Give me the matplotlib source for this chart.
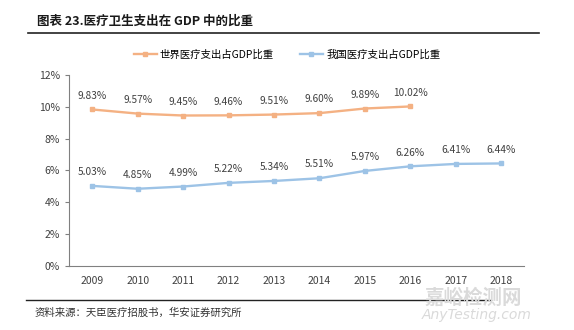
import numpy as np
import matplotlib.pyplot as plt
from matplotlib.lines import Line2D

plt.rcParams['font.family'] = ['Noto Sans CJK SC', 'DejaVu Sans']

years = ['2009', '2010', '2011', '2012', '2013', '2014', '2015', '2016', '2017', '2018']
world = [9.83, 9.57, 9.45, 9.46, 9.51, 9.60, 9.89, 10.02]
china = [5.03, 4.85, 4.99, 5.22, 5.34, 5.51, 5.97, 6.26, 6.41, 6.44]

c_world = '#F4B183'
c_china = '#9DC3E6'

fig = plt.figure(figsize=(5.74, 3.30), dpi=100)
ax = fig.add_axes([0.121, 0.194, 0.792, 0.579])

x = np.arange(len(years))
ax.plot(x[:len(world)], world, color=c_world, lw=1.7, marker='s', ms=3.5)
ax.plot(x, china, color=c_china, lw=1.7, marker='s', ms=3.5)

for i, v in enumerate(world):
    ax.text(i, v + 0.55, '%.2f%%' % v, ha='center', va='bottom', fontsize=7.3, color='#404040')
for i, v in enumerate(china):
    ax.text(i, v + 0.55, '%.2f%%' % v, ha='center', va='bottom', fontsize=7.3, color='#404040')

ax.set_xlim(-0.5, len(years) - 0.5)
ax.set_ylim(0, 12)
ax.set_yticks(range(0, 13, 2))
ax.set_yticklabels(['%d%%' % t for t in range(0, 13, 2)], fontsize=7.5, color='#404040')
ax.set_xticks(x)
ax.set_xticklabels(years, fontsize=7.5, color='#404040')
ax.tick_params(axis='x', length=0, pad=7)
ax.tick_params(axis='y', length=3, color='#808080', direction='out', pad=4)
for s in ['top', 'right']:
    ax.spines[s].set_visible(False)
for s in ['left', 'bottom']:
    ax.spines[s].set_color('#808080')

handles = [Line2D([], [], color=c_world, lw=1.7, marker='s', ms=3.5),
           Line2D([], [], color=c_china, lw=1.7, marker='s', ms=3.5)]
fig.legend(handles, ['世界医疗支出占GDP比重', '我国医疗支出占GDP比重'],
           loc='center', bbox_to_anchor=(0.5, 0.835), ncol=2, frameon=False,
           fontsize=7.5, handlelength=2.2, columnspacing=2.5, handletextpad=0.3)

# title and rules
fig.text(0.064, 0.935, '图表 23.医疗卫生支出在 GDP 中的比重', fontsize=9, fontweight='bold',
         color='#1a1a1a', va='center')
fig.add_artist(Line2D([0.049, 0.939], [0.900, 0.900], color='#222222', lw=1.2))
fig.add_artist(Line2D([0.045, 0.855], [0.091, 0.091], color='#222222', lw=1.0))
fig.text(0.060, 0.052, '资料来源：天臣医疗招股书，华安证券研究所', fontsize=7.5, color='#333333', va='center')

# watermark
fig.text(0.825, 0.097, '嘉峪检测网', fontsize=14, color='#dadada', ha='center', va='center', fontweight='bold')
fig.text(0.83, 0.045, 'AnyTesting.com', fontsize=10, color='#dadada', ha='center', va='center',
         style='italic', family=['DejaVu Sans'])

fig.savefig('out.png', dpi=100)
